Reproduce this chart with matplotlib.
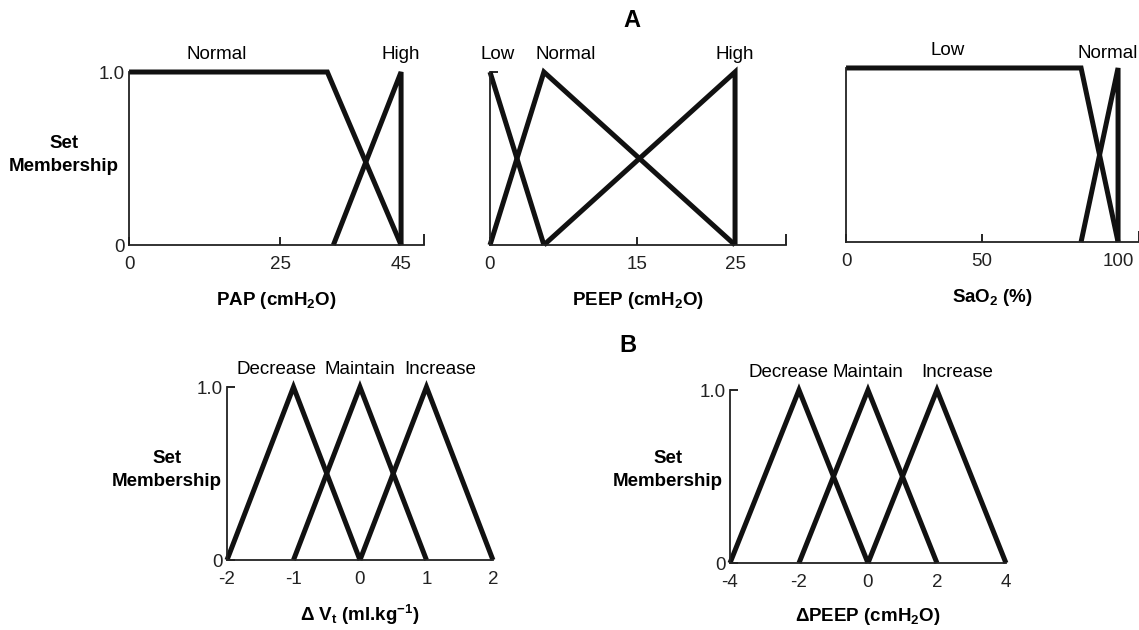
import matplotlib
matplotlib.use('Agg')
import matplotlib.pyplot as plt

plt.rcParams['font.family'] = ['Liberation Sans', 'DejaVu Sans']
plt.rcParams['mathtext.fontset'] = 'custom'
plt.rcParams['mathtext.rm'] = 'Liberation Sans'
plt.rcParams['mathtext.bf'] = 'Liberation Sans:bold'
plt.rcParams['mathtext.it'] = 'Liberation Sans:italic'

# ---- data: membership functions (x breakpoints, membership values) ----
pap_normal_x = [0, 32.8, 45]
pap_normal_y = [1.0, 1.0, 0]
pap_high_x = [33.8, 45, 45]
pap_high_y = [0, 1.0, 0]
pap_ticks = [0, 25, 45]

peep_low_x = [0, 5.5]
peep_low_y = [1.0, 0]
peep_normal_x = [0, 5.5, 25]
peep_normal_y = [0, 1.0, 0]
peep_high_x = [5.5, 25, 25]
peep_high_y = [0, 1.0, 0]
peep_ticks = [0, 15, 25]

sao2_low_x = [0, 86.4, 100]
sao2_low_y = [1.0, 1.0, 0]
sao2_normal_x = [86.4, 100, 100]
sao2_normal_y = [0, 1.0, 0]
sao2_ticks = [0, 50, 100]

dvt_sets = {'Decrease': [-2, -1, 0], 'Maintain': [-1, 0, 1], 'Increase': [0, 1, 2]}
dvt_ticks = [-2, -1, 0, 1, 2]
dpeep_sets = {'Decrease': [-4, -2, 0], 'Maintain': [-2, 0, 2], 'Increase': [0, 2, 4]}
dpeep_ticks = [-4, -2, 0, 2, 4]
tri_y = [0, 1.0, 0]

LW = 3.6
COL = '#111111'
FS = 13.5

fig = plt.figure(figsize=(11.39, 6.3), dpi=100)


def style(ax, xlim, ticks, ylabels=True):
    ax.set_xlim(*xlim)
    ax.set_ylim(0, 1)
    for s in ['top', 'right']:
        ax.spines[s].set_visible(False)
    for s in ['left', 'bottom']:
        ax.spines[s].set_linewidth(1.3)
        ax.spines[s].set_color('#222222')
    ax.set_xticks(ticks)
    ax.set_xticklabels([str(t) for t in ticks], fontsize=FS, color='#222222')
    ax.set_xticks([xlim[1]], minor=True)
    ax.tick_params(axis='x', which='both', direction='in', length=6, width=1.2, pad=8)
    ax.tick_params(axis='x', which='minor', length=8)
    if ylabels:
        ax.set_yticks([0, 1])
        ax.set_yticklabels(['0', '1.0'], fontsize=FS, color='#222222')
        ax.tick_params(axis='y', direction='in', length=6, width=1.2, pad=3)
    else:
        ax.set_yticks([1])
        ax.set_yticklabels([''])
        ax.tick_params(axis='y', direction='in', length=6, width=1.2)


def line(ax, x, y):
    ax.plot(x, y, color=COL, lw=LW, clip_on=False, solid_joinstyle='miter', solid_capstyle='butt')


# ---- row A ----
ax1 = fig.add_axes([0.1133, 0.6111, 0.2590, 0.2746])
line(ax1, pap_normal_x, pap_normal_y)
line(ax1, pap_high_x, pap_high_y)
style(ax1, (0, 48.8), pap_ticks)
ax1.set_yticks([0, 1])
ax1.tick_params(axis='y', length=0)
ax1.text(14.5, 1.05, 'Normal', ha='center', va='bottom', fontsize=FS)
ax1.text(45, 1.05, 'High', ha='center', va='bottom', fontsize=FS)
ax1.set_xlabel('PAP (cmH$_\\mathbf{2}$O)', fontsize=FS, fontweight='bold', labelpad=12)

ax2 = fig.add_axes([0.4302, 0.6111, 0.2599, 0.2746])
line(ax2, peep_low_x, peep_low_y)
line(ax2, peep_normal_x, peep_normal_y)
line(ax2, peep_high_x, peep_high_y)
style(ax2, (0, 30.2), peep_ticks, ylabels=False)
ax2.text(0.8, 1.05, 'Low', ha='center', va='bottom', fontsize=FS)
ax2.text(7.7, 1.05, 'Normal', ha='center', va='bottom', fontsize=FS)
ax2.text(25, 1.05, 'High', ha='center', va='bottom', fontsize=FS)
ax2.set_xlabel('PEEP (cmH$_\\mathbf{2}$O)', fontsize=FS, fontweight='bold', labelpad=12)

ax3 = fig.add_axes([0.7428, 0.6159, 0.2572, 0.2762])
line(ax3, sao2_low_x, sao2_low_y)
line(ax3, sao2_normal_x, sao2_normal_y)
style(ax3, (0, 107.7), sao2_ticks, ylabels=False)
ax3.tick_params(axis='y', length=0)
ax3.text(37.5, 1.05, 'Low', ha='center', va='bottom', fontsize=FS)
fig.text(0.999, 1 - 54 / 630, 'Normal', ha='right', va='center', fontsize=FS)
ax3.set_xlabel('SaO$_\\mathbf{2}$ (%)', fontsize=FS, fontweight='bold', labelpad=12)

fig.text(0.1133 - 0.057, 0.754, 'Set\nMembership', ha='center', va='center',
         fontsize=FS, fontweight='bold', linespacing=1.4)
fig.text(0.555, 0.967, 'A', ha='center', va='center', fontsize=17, fontweight='bold')

# ---- row B ----
ax4 = fig.add_axes([0.1993, 0.1111, 0.2335, 0.2746])
for name, xs in dvt_sets.items():
    line(ax4, xs, tri_y)
    ax4.text(xs[1] - (0.25 if name == 'Decrease' else 0.0) + (0.2 if name == 'Increase' else 0.0),
             1.05, name, ha='center', va='bottom', fontsize=FS)
style(ax4, (-2, 2), dvt_ticks)
ax4.tick_params(axis='x', which='major', length=0)
ax4.set_xlabel('Δ V$_\\mathbf{t}$ (ml.kg$^{\\mathbf{-1}}$)', fontsize=FS, fontweight='bold', labelpad=11)
fig.text(167 / 1139, 1 - 470 / 630, 'Set\nMembership', ha='center', va='center',
         fontsize=FS, fontweight='bold', linespacing=1.4)

ax5 = fig.add_axes([0.6409, 0.1063, 0.2423, 0.2746])
for name, xs in dpeep_sets.items():
    line(ax5, xs, tri_y)
    ax5.text(xs[1] - (0.3 if name == 'Decrease' else 0.0) + (0.6 if name == 'Increase' else 0.0),
             1.05, name, ha='center', va='bottom', fontsize=FS)
style(ax5, (-4, 4), dpeep_ticks)
ax5.tick_params(axis='x', which='major', length=0)
ax5.set_xlabel('ΔPEEP (cmH$_\\mathbf{2}$O)', fontsize=FS, fontweight='bold', labelpad=11)
fig.text(668 / 1139, 1 - 470 / 630, 'Set\nMembership', ha='center', va='center',
         fontsize=FS, fontweight='bold', linespacing=1.4)
fig.text(628 / 1139, 1 - 345 / 630, 'B', ha='center', va='center', fontsize=17, fontweight='bold')

fig.savefig('out.png', dpi=100, facecolor='white')
